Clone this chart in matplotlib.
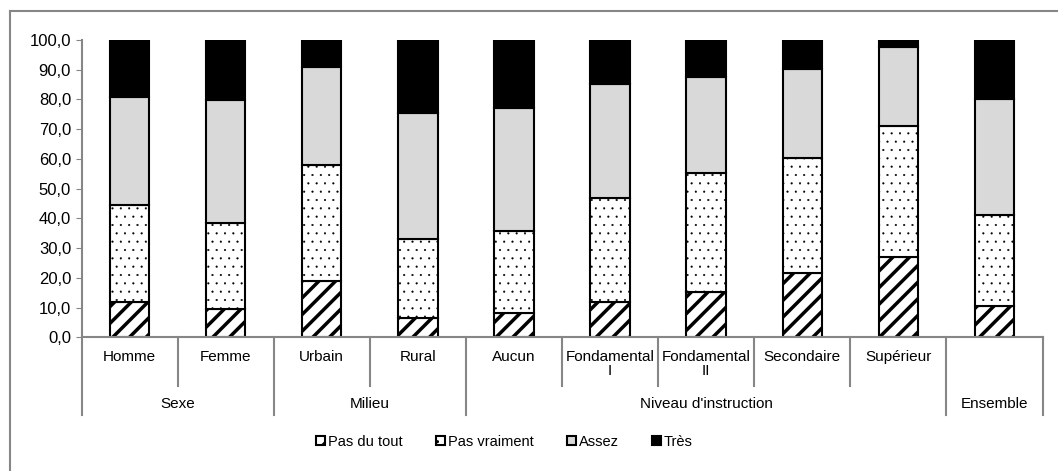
import matplotlib
matplotlib.use("Agg")
import matplotlib.pyplot as plt
from matplotlib.lines import Line2D
import matplotlib.transforms as mtransforms
import numpy as np

plt.rcParams['font.family'] = ['Liberation Sans', 'DejaVu Sans']
plt.rcParams['font.size'] = 11

# données (en %)
categories = ["Homme", "Femme", "Urbain", "Rural", "Aucun", "Fondamental\nI",
              "Fondamental\nII", "Secondaire", "Supérieur", ""]
groups = ["Sexe", "Milieu", "Niveau d'instruction", "Ensemble"]
group_sizes = [2, 2, 5, 1]

pas_du_tout = [12.0, 9.4, 19.1, 6.5, 8.3, 11.9, 15.3, 21.5, 27.1, 10.5]
pas_vraiment = [32.6, 29.0, 38.8, 26.5, 27.4, 35.0, 40.1, 38.9, 44.1, 30.6]
assez = [36.2, 41.5, 33.0, 42.4, 41.4, 38.4, 32.0, 29.9, 26.6, 39.2]
tres = [19.2, 20.1, 9.1, 24.6, 22.9, 14.7, 12.6, 9.7, 2.2, 19.7]

series = [("Pas du tout", pas_du_tout, "white", "//", 2.5),
          ("Pas vraiment", pas_vraiment, "white", "..", 0.3),
          ("Assez", assez, "#d9d9d9", None, 1.0),
          ("Très", tres, "black", None, 1.0)]

fig = plt.figure(figsize=(10.58, 4.71), dpi=100)
ax = fig.add_axes([81.5 / 1058, 133.7 / 471, 961 / 1058, 297.3 / 471])

x = np.arange(len(categories))
bottom = np.zeros(len(categories))
for name, vals, color, hatch, hlw in series:
    plt.rcParams['hatch.linewidth'] = hlw
    ax.bar(x, vals, width=0.41, bottom=bottom, color=color, edgecolor="black",
           linewidth=1.5, hatch=hatch, label=name)
    bottom += np.array(vals)

ax.set_xlim(-0.5, len(categories) - 0.5)
ax.set_ylim(0, 100)
ax.set_yticks(np.arange(0, 101, 10))
ax.set_yticklabels([f"{v:.1f}".replace(".", ",") for v in np.arange(0, 101, 10)])
ax.tick_params(axis="y", length=4, color="#868686", direction="out", labelsize=12)
ax.set_xticks([])
for s in ["top", "right"]:
    ax.spines[s].set_visible(False)
for s in ["left", "bottom"]:
    ax.spines[s].set_color("#868686")
    ax.spines[s].set_linewidth(1.5)

# axe des catégories à deux niveaux
trans = mtransforms.blended_transform_factory(ax.transData, ax.transAxes)
inner_y = -48.4 / 297.3
outer_y = -77.7 / 297.3
for i, lab in enumerate(categories):
    ax.text(i, -13 / 297.3, lab, transform=trans, ha="center", va="top",
            linespacing=1.0)

bounds = np.concatenate([[0], np.cumsum(group_sizes)])
group_edges = set(bounds - 0.5)
for b in np.arange(-0.5, len(categories)):
    y_end = outer_y if b in group_edges else inner_y
    ax.add_line(Line2D([b, b], [0, y_end], transform=trans, color="#868686",
                       linewidth=1.5, clip_on=False))
for g, lo, hi in zip(groups, bounds[:-1], bounds[1:]):
    ax.text((lo + hi - 1) / 2, -67 / 297.3, g, transform=trans, ha="center",
            va="center")

fig.legend(loc="center", bbox_to_anchor=(0.477, 29 / 471), ncol=4, frameon=False,
           handlelength=0.6, handleheight=0.6, handletextpad=0.2,
           columnspacing=2.3, fontsize=10.5)

# cadre du graphique
fig.add_artist(Line2D([10 / 1058, 10 / 1058], [0, 1 - 11 / 471], color="#868686",
                      linewidth=1.5))
fig.add_artist(Line2D([10 / 1058, 1], [1 - 11 / 471, 1 - 11 / 471], color="#868686",
                      linewidth=1.5))

fig.savefig("out.png", dpi=100)
